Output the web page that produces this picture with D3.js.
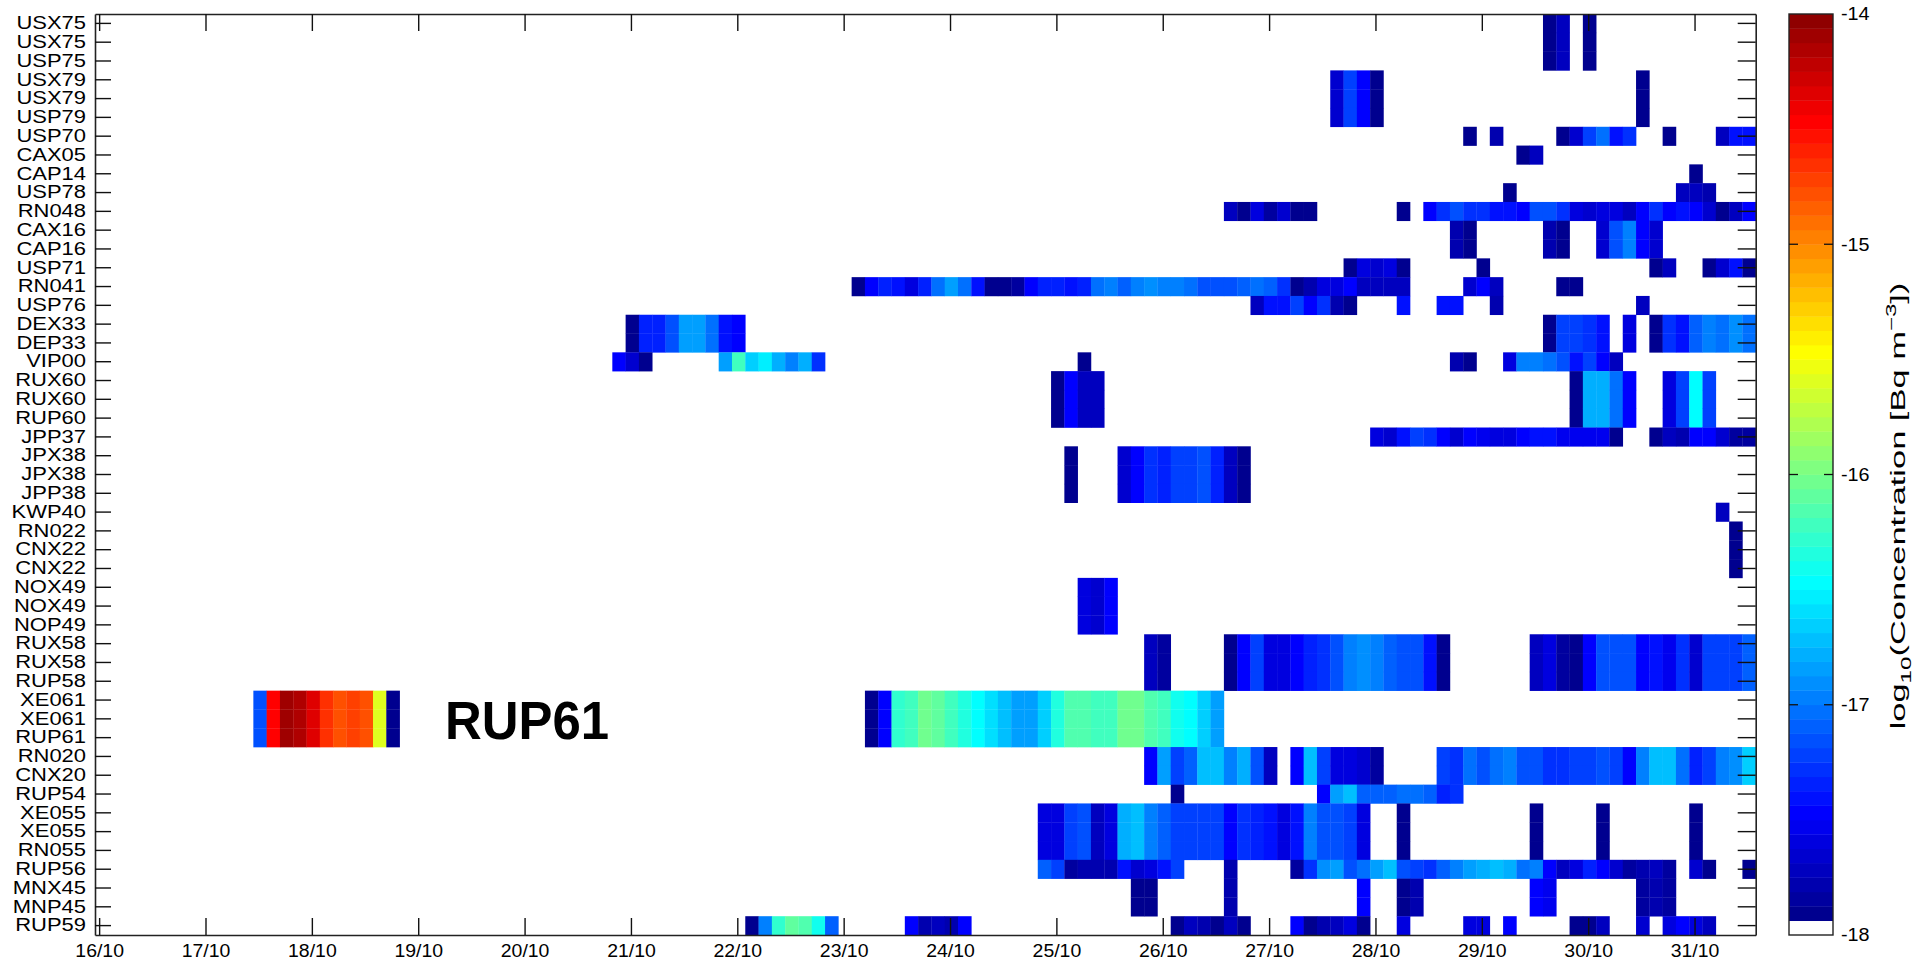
<!DOCTYPE html>
<html>
<head>
<meta charset="utf-8">
<script src="https://cdn.jsdelivr.net/npm/d3@7"></script>
<style>
body { margin: 0; background: #fff; }
svg { display: block; font-family: "Liberation Sans", Arial, sans-serif; }
</style>
</head>
<body>
<svg id="chart" width="1913" height="964"></svg>
<script>

var stations = ["USX75","USX75","USP75","USX79","USX79","USP79","USP70","CAX05","CAP14","USP78",
    "RN048","CAX16","CAP16","USP71","RN041","USP76","DEX33","DEP33","VIP00","RUX60",
    "RUX60","RUP60","JPP37","JPX38","JPX38","JPP38","KWP40","RN022","CNX22","CNX22",
    "NOX49","NOX49","NOP49","RUX58","RUX58","RUP58","XE061","XE061","RUP61","RN020",
    "CNX20","RUP54","XE055","XE055","RN055","RUP56","MNX45","MNP45","RUP59"];

// 3-hour samples: [first bin, log10 concentrations]
var usx75 = [[108, [-17.91, -17.72]], [111, [-17.91]]];
var usx79 = [[92, [-17.66, -17.22, -17.47, -17.91]], [115, [-17.91]]];
var usp70 = [[102, [-17.91]], [104, [-17.78]], [109, [-17.91, -17.66, -17.22, -17.03, -17.41, -17.28]],
    [117, [-17.91]], [121, [-17.72, -17.41, -17.41]]];
var cax05 = [[106, [-17.91, -17.72]]];
var cap14 = [[119, [-17.91]]];
var usp78 = [[105, [-17.91]], [118, [-17.72, -17.72, -17.78]]];
var rn048 = [[84, [-17.72, -17.91, -17.59, -17.84, -17.66, -17.91, -17.91]], [97, [-17.91]],
    [99, [-17.47, -17.28, -17.16, -17.28, -17.28, -17.41, -17.41, -17.47, -17.16, -17.16, -17.28, -17.59, -17.66,
          -17.59, -17.59, -17.72, -17.47, -17.28, -17.47, -17.41, -17.47, -17.66, -17.91, -17.72, -17.47]]];
var cax16 = [[101, [-17.78, -17.91]], [108, [-17.78, -17.91]], [112, [-17.66, -17.16, -16.97, -17.47, -17.66]]];
var usp71 = [[93, [-17.91, -17.59, -17.66, -17.59, -17.91]], [103, [-17.91]], [116, [-17.91, -17.72]],
    [120, [-17.91, -17.66, -17.41, -17.91]]];
var rn041 = [[56, [-17.91, -17.47, -17.34, -17.41, -17.59, -17.34, -17.03, -16.84, -17.03, -17.41,
                   -17.91, -17.91, -17.84, -17.47, -17.34, -17.34, -17.41, -17.34, -17.03, -16.97,
                   -17.09, -16.97, -16.91, -16.97, -16.97, -17.03, -17.16, -17.16, -17.16, -17.09,
                   -17.03, -17.09, -17.28, -17.91, -17.78, -17.59, -17.59, -17.47, -17.72, -17.72,
                   -17.72, -17.72]],
    [102, [-17.66, -17.47, -17.72]], [109, [-17.91, -17.91]]];
var usp76 = [[86, [-17.72, -17.41, -17.41, -17.22, -17.47, -17.28, -17.78, -17.91]], [97, [-17.41]],
    [100, [-17.41, -17.41]], [104, [-17.78]], [115, [-17.72]]];
var dex33 = [[39, [-17.91, -17.34, -17.34, -17.16, -16.84, -16.84, -17.03, -17.41, -17.47]],
    [108, [-17.91, -17.22, -17.22, -17.28, -17.41]], [114, [-17.59]],
    [116, [-17.91, -17.28, -17.41, -17.09, -16.97, -17.03, -16.91, -17.03]]];
var vip00 = [[38, [-17.47, -17.66, -17.91]], [46, [-16.84, -16.22, -16.66, -16.53, -16.78, -16.97, -16.78, -17.28]],
    [73, [-17.91]], [101, [-17.78, -17.91]],
    [105, [-17.59, -16.97, -16.97, -17.03, -17.16, -17.41, -17.22, -17.47, -17.72]]];
var rux60 = [[71, [-17.91, -17.47, -17.72, -17.72]], [110, [-17.91, -16.78, -16.78, -17.03, -17.47]],
    [117, [-17.59, -17.22, -16.47, -17.22]]];
var jpp37 = [[95, [-17.59, -17.66, -17.41, -17.22, -17.28, -17.47, -17.66, -17.47, -17.53, -17.59,
                   -17.59, -17.47, -17.41, -17.41, -17.53, -17.53, -17.53, -17.53, -17.91]],
    [116, [-17.91, -17.72, -17.78, -17.47, -17.47, -17.66, -17.84, -17.84]]];
var jpx38 = [[72, [-17.91]], [76, [-17.66, -17.47, -17.28, -17.34, -17.22, -17.22, -17.16, -17.34, -17.72, -17.91]]];
var kwp40 = [[121, [-17.72]]];
var rn022 = [[122, [-17.91]]];
var nox49 = [[73, [-17.59, -17.66, -17.47]]];
var rux58 = [[78, [-17.72, -17.84]],
    [84, [-17.91, -17.47, -17.22, -17.59, -17.59, -17.47, -17.34, -17.28, -17.16, -16.97,
          -16.91, -16.97, -17.09, -17.16, -17.16, -17.41, -17.91]],
    [107, [-17.72, -17.59, -17.84, -17.91, -17.47, -17.16, -17.16, -17.16, -17.47, -17.41,
           -17.53, -17.28, -17.66, -17.22, -17.22, -17.22, -17.09]]];
var xe061 = [[11, [-17.16, -14.47, -14.09, -14.16, -14.34, -14.66, -14.78, -14.72, -14.78, -15.59, -17.91]],
    [57, [-17.91, -17.47, -16.28, -16.2, -16.03, -16.09, -16.22, -16.34, -16.47, -16.59,
          -16.72, -16.84, -16.84, -16.66, -16.34, -16.16, -16.16, -16.22, -16.22, -16.03,
          -16.03, -16.16, -16.22, -16.41, -16.47, -16.66, -16.84]]];
var rn020 = [[78, [-17.47, -16.84, -17.22, -17.09, -16.72, -16.72, -16.97, -16.78, -17.16, -17.72]],
    [89, [-17.47, -16.72, -17.22, -17.59, -17.59, -17.66, -17.84]],
    [100, [-17.22, -17.28, -17.03, -17.16, -17.03, -16.97, -17.16, -17.16, -17.28, -17.28,
           -17.22, -17.22, -17.16, -17.22, -17.47, -16.97, -16.72, -16.72, -17.03, -17.34,
           -17.22, -16.97, -16.91, -16.66]]];
var rup54 = [[80, [-17.91]], [91, [-17.47, -16.84, -16.72, -17.09, -17.09, -17.09, -17.03, -17.03, -17.09, -17.34, -17.28]]];
var xe055 = [[70, [-17.59, -17.59, -17.22, -17.16, -17.72, -17.59, -16.78, -16.72, -16.97, -17.09,
                   -17.22, -17.22, -17.22, -17.22, -17.47, -17.28, -17.34, -17.41, -17.59, -17.41,
                   -16.97, -17.16, -17.16, -17.22, -17.59]],
    [97, [-17.91]], [107, [-17.91]], [112, [-17.91]], [119, [-17.91]]];
var rup56 = [[70, [-17.09, -17.22, -17.84, -17.78, -17.78, -17.78, -17.41, -17.66, -17.59, -17.41, -17.22]],
    [84, [-17.78]],
    [89, [-17.84, -17.28, -16.91, -16.84, -17.16, -17.03, -16.84, -16.72, -17.16, -17.22,
          -17.28, -17.09, -16.97, -16.84, -16.78, -16.72, -16.78, -17.03, -16.97, -17.47,
          -17.72, -17.59, -17.34, -17.47, -17.66, -17.84, -17.78, -17.72, -17.84]],
    [119, [-17.66, -17.91]], [123, [-17.91]]];
var mnx45 = [[77, [-17.91, -17.91]], [84, [-17.78]], [94, [-17.47]], [97, [-17.91, -17.78]],
    [107, [-17.47, -17.53]], [115, [-17.84, -17.78, -17.84]]];
var rup59 = [[48, [-17.91, -16.97, -16.28, -16.09, -16.16, -16.41, -17.09]],
    [60, [-17.47, -17.78, -17.72, -17.78, -17.47]],
    [80, [-17.91, -17.72, -17.78, -17.91, -17.72, -17.91]],
    [89, [-17.47, -17.91, -17.78, -17.72, -17.59, -17.91]],
    [97, [-17.59]], [102, [-17.59, -17.59]], [105, [-17.47]], [110, [-17.91, -17.91, -17.72]],
    [115, [-17.66]], [117, [-17.59, -17.47, -17.59, -17.72]]];

// [first row, last row, samples]
var rowGroups = [[0, 2, usx75], [3, 5, usx79], [6, 6, usp70], [7, 7, cax05], [8, 8, cap14],
    [9, 9, usp78], [10, 10, rn048], [11, 12, cax16], [13, 13, usp71], [14, 14, rn041],
    [15, 15, usp76], [16, 17, dex33], [18, 18, vip00], [19, 21, rux60], [22, 22, jpp37],
    [23, 25, jpx38], [26, 26, kwp40], [27, 29, rn022], [30, 32, nox49], [33, 35, rux58],
    [36, 38, xe061], [39, 40, rn020], [41, 41, rup54], [42, 44, xe055], [45, 45, rup56],
    [46, 47, mnx45], [48, 48, rup59]];

var colorTicks = [-18, -17, -16, -15, -14];

var binOrigin = Date.UTC(2014, 9, 16, 1, 48);
var binHours = 3;
function binTime(k) { return new Date(binOrigin + k * binHours * 3600e3); }

// matlab style jet(63) with white as the lowest level
function jet(m) {
    var n = Math.ceil(m / 4);
    var u = [];
    for (var i = 1; i <= n; i++) u.push(i / n);
    for (var i = 1; i < n; i++) u.push(1);
    for (var i = n; i >= 1; i--) u.push(i / n);
    var J = d3.range(m).map(function() { return [0, 0, 0]; });
    var g0 = Math.ceil(n / 2) - (m % 4 == 1 ? 1 : 0);
    var gs = [], rs = [], bs = [];
    for (var i = 1; i <= u.length; i++) {
        var g = g0 + i;
        if (g <= m) gs.push(g);
        if (g + n <= m) rs.push(g + n);
        if (g - n >= 1) bs.push(g - n);
    }
    rs.forEach(function(r, i) { J[r - 1][0] = u[i]; });
    gs.forEach(function(g, i) { J[g - 1][1] = u[i]; });
    bs.forEach(function(b, i) { J[b - 1][2] = u[u.length - bs.length + i]; });
    return J.map(function(c) { return d3.rgb(c[0] * 255, c[1] * 255, c[2] * 255).formatHex(); });
}
var cmap = ["#ffffff"].concat(jet(63));

function stretch(sel, k) {
    sel.each(function() {
        var w = this.getComputedTextLength();
        d3.select(this).attr("textLength", w * k).attr("lengthAdjust", "spacingAndGlyphs");
    });
}

function render() {
    var svg = d3.select("#chart");
    var left = 95, right = 1755.7, top = 14, bottom = 935;

    var xs = d3.scaleUtc()
        .domain([new Date(Date.UTC(2014, 9, 15, 23, 4)), binTime(124)])
        .range([left, right]);
    var ys = d3.scaleBand().domain(d3.range(stations.length)).range([top, bottom]);
    var cs = d3.scaleQuantize().domain([-18, -14]).range(cmap);

    var cells = [];
    rowGroups.forEach(function(g) {
        g[2].forEach(function(run) {
            run[1].forEach(function(v, j) {
                for (var r = g[0]; r <= g[1]; r++) {
                    cells.push({ row: r, bin: run[0] + j, value: v });
                }
            });
        });
    });

    svg.append("g")
        .selectAll("rect")
        .data(cells)
        .enter()
        .append("rect")
            .attr("x", function(d) { return xs(binTime(d.bin)); })
            .attr("width", function(d) { return xs(binTime(d.bin + 1)) - xs(binTime(d.bin)) + 0.3; })
            .attr("y", function(d) { return ys(d.row); })
            .attr("height", ys.bandwidth() + 0.3)
            .attr("fill", function(d) { return cs(d.value); });

    var days = d3.utcDay.range(new Date(Date.UTC(2014, 9, 16)), new Date(Date.UTC(2014, 9, 31, 1)));
    var fmt = d3.utcFormat("%d/%m");

    var xAxis = d3.axisBottom(xs).tickValues(days).tickFormat(fmt)
            .tickSizeInner(-17).tickSizeOuter(0).tickPadding(9);
    var xTop = d3.axisTop(xs).tickValues(days).tickFormat("")
            .tickSizeInner(-17).tickSizeOuter(0);
    var yAxis = d3.axisLeft(ys).tickFormat(function(i) { return stations[i]; })
            .tickSizeInner(-16).tickSizeOuter(0).tickPadding(9);
    var yRight = d3.axisRight(ys).tickFormat("")
            .tickSizeInner(-18).tickSizeOuter(0);

    var xg = svg.append("g").attr("class", "ax").attr("transform", "translate(0," + bottom + ")").call(xAxis);
    svg.append("g").attr("class", "ax").attr("transform", "translate(0," + top + ")").call(xTop);
    var yg = svg.append("g").attr("class", "ax").attr("transform", "translate(" + left + ",0)").call(yAxis);
    svg.append("g").attr("class", "ax").attr("transform", "translate(" + right + ",0)").call(yRight);

    svg.selectAll(".ax path").attr("stroke", "#222").attr("stroke-width", 1.6);
    svg.selectAll(".ax line").attr("stroke", "#111").attr("stroke-width", 1.4);
    svg.selectAll(".ax text").attr("fill", "#000").style("font-size", "18px")
        .style("font-family", "'Liberation Sans', Arial, sans-serif");

    // the labels in the picture are a little wider than the font
    stretch(yg.selectAll("text"), 1.22);
    stretch(xg.selectAll("text"), 1.08);

    svg.append("text")
        .attr("x", 445)
        .attr("y", 739)
        .attr("textLength", 164)
        .attr("lengthAdjust", "spacingAndGlyphs")
        .style("font-size", "54px")
        .style("font-weight", "bold")
        .text("RUP61");

    // colour bar
    var cbx = 1789, cbw = 44;
    var cy = d3.scaleLinear().domain([-18, -14]).range([bottom, top]);
    svg.append("g")
        .selectAll("rect")
        .data(cmap)
        .enter()
        .append("rect")
            .attr("x", cbx)
            .attr("width", cbw)
            .attr("y", function(d, i) { return cy(-18 + (i + 1) / 16); })
            .attr("height", function(d, i) { return cy(-18 + i / 16) - cy(-18 + (i + 1) / 16) + 0.4; })
            .attr("fill", function(d) { return d; });

    svg.append("rect")
        .attr("x", cbx).attr("y", top).attr("width", cbw).attr("height", bottom - top)
        .attr("fill", "none").attr("stroke", "#222").attr("stroke-width", 1.4);

    var inner = colorTicks.slice(1, 4);
    svg.append("g").selectAll("line").data(inner).enter().append("line")
        .attr("x1", cbx).attr("x2", cbx + 9)
        .attr("y1", function(d) { return cy(d); }).attr("y2", function(d) { return cy(d); })
        .attr("stroke", "#111").attr("stroke-width", 1.3);
    svg.append("g").selectAll("line").data(inner).enter().append("line")
        .attr("x1", cbx + cbw - 9).attr("x2", cbx + cbw)
        .attr("y1", function(d) { return cy(d); }).attr("y2", function(d) { return cy(d); })
        .attr("stroke", "#111").attr("stroke-width", 1.3);

    var cbl = svg.append("g").selectAll("text").data(colorTicks).enter().append("text")
        .attr("x", cbx + cbw + 8)
        .attr("y", function(d) { return cy(d); })
        .attr("dy", "0.35em")
        .style("font-size", "18px")
        .text(function(d) { return "-" + Math.abs(d); });
    stretch(cbl, 1.1);

    var title = svg.append("text")
        .style("text-anchor", "middle")
        .style("font-size", "20px");
    title.append("tspan").text("log");
    title.append("tspan").attr("dy", 6).style("font-size", "14px").text("10");
    title.append("tspan").attr("dy", -6).text("(Concentration [Bq m");
    title.append("tspan").attr("dy", -9).style("font-size", "14px").text("\u22123");
    title.append("tspan").attr("dy", 9).text("])");
    var tw = title.node().getComputedTextLength();
    title.attr("transform", "translate(1905,506) rotate(-90) scale(" + (447 / tw) + ",1)");
}

render();
</script>
</body>
</html>
